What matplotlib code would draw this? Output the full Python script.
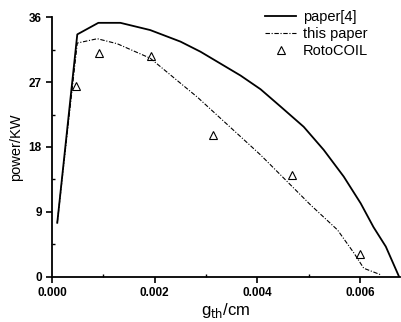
import matplotlib
matplotlib.use('Agg')
import matplotlib.pyplot as plt
from matplotlib.ticker import MultipleLocator, FormatStrFormatter

plt.rcParams['font.family'] = ['Liberation Sans', 'DejaVu Sans']

# paper[4] curve
ref_x = [0.0001, 0.00049, 0.0009, 0.00133, 0.00191, 0.0025, 0.00289, 0.00367,
         0.00406, 0.00445, 0.0049, 0.00529, 0.00568, 0.00601, 0.00626, 0.0065,
         0.00676]
ref_y = [7.5, 33.6, 35.2, 35.2, 34.2, 32.6, 31.2, 27.9,
         26.0, 23.6, 20.8, 17.6, 13.9, 10.2, 6.9, 4.2,
         0.0]

# this paper curve
our_x = [0.0001, 0.00049, 0.00088, 0.00127, 0.00191, 0.00283, 0.00406, 0.00451,
         0.00503, 0.00556, 0.00588, 0.00607, 0.0064]
our_y = [7.5, 32.4, 33.0, 32.3, 30.3, 24.9, 16.9, 13.7,
         10.0, 6.5, 3.3, 1.2, 0.3]

# RotoCOIL measurements
roto_x = [0.00047, 0.00092, 0.00193, 0.00314, 0.00468, 0.00599]
roto_y = [26.5, 31.0, 30.6, 19.7, 14.1, 3.2]

fig = plt.figure(figsize=(4.01, 3.22), dpi=100)
ax = fig.add_axes([0.13, 0.14, 0.868, 0.807])

ax.plot(ref_x, ref_y, '-', color='black', lw=1.3, label='paper[4]')
ax.plot(our_x, our_y, linestyle=(0, (4, 1.5, 1, 1.5)), color='black', lw=0.8,
        label='this paper')
ax.plot(roto_x, roto_y, '^', color='black', mfc='none', ms=6, mew=0.8,
        linestyle='none', label='RotoCOIL')

ax.set_xlim(0, 0.00678)
ax.set_ylim(0, 36)
ax.xaxis.set_major_locator(MultipleLocator(0.002))
ax.xaxis.set_minor_locator(MultipleLocator(0.001))
ax.yaxis.set_major_locator(MultipleLocator(9))
ax.yaxis.set_minor_locator(MultipleLocator(4.5))
ax.xaxis.set_major_formatter(FormatStrFormatter('%.3f'))

ax.spines['top'].set_visible(False)
ax.spines['right'].set_visible(False)
ax.spines['left'].set_linewidth(1.3)
ax.spines['bottom'].set_linewidth(1.3)
ax.tick_params(which='major', direction='out', length=4, width=1.2, labelsize=8.5)
ax.tick_params(which='minor', direction='in', length=2.5, width=1.0)
for lab in ax.get_xticklabels() + ax.get_yticklabels():
    lab.set_fontweight('bold')

ax.set_xlabel('g$_{\\rm th}$/cm', fontsize=12, labelpad=1)
ax.set_ylabel('power/KW', fontsize=10.5, labelpad=4)

ax.legend(loc='upper right', frameon=False, fontsize=10.5, handlelength=2.1,
          handletextpad=0.5, labelspacing=0.2, borderaxespad=0.0,
          bbox_to_anchor=(0.925, 1.05))

fig.savefig('out.png', dpi=100)
